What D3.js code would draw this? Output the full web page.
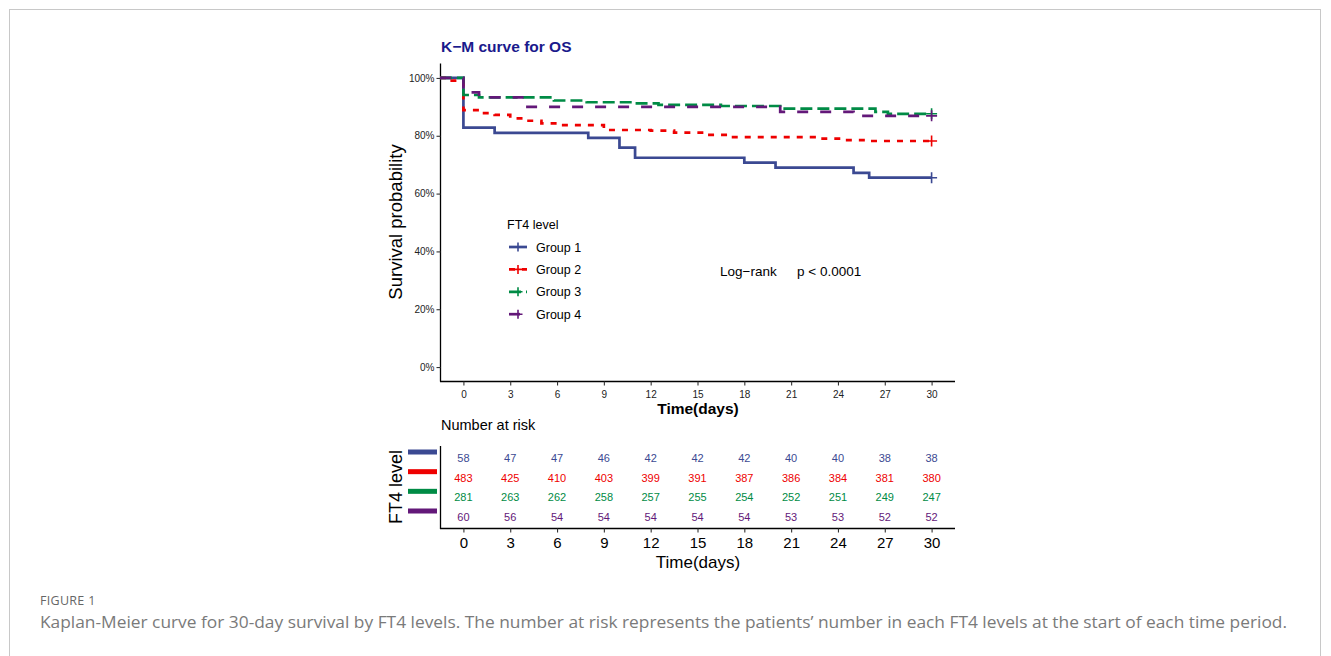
<!DOCTYPE html>
<html>
<head>
<meta charset="utf-8">
<script src="https://cdn.jsdelivr.net/npm/d3@7"></script>
<style>
  body { margin: 0; background: #fff; }
  svg text { font-family: "Liberation Sans", Arial, sans-serif; }
</style>
</head>
<body>
<svg id="fig" width="1331" height="656"></svg>
<script>
// groups and colours
const groups = ['Group 1', 'Group 2', 'Group 3', 'Group 4']
const colors = ['#3B4992', '#EE0000', '#008B45', '#631879']
const dashes = [null, '6,7', '12,5', '11,12']

// survival steps
const g1Time = [-1.5, 0, 2, 8, 10, 11, 18, 20, 25, 26, 30]
const g1Surv = [1.0, 0.828, 0.810, 0.793, 0.759, 0.724, 0.707, 0.690, 0.672, 0.655, 0.655]
const g2Time = [-1.5, -1.1, 0, 1, 2, 3, 4, 5, 6, 9, 12, 13.5, 15.5, 17, 22.5, 24.5, 26, 30]
const g2Surv = [1.0, 0.991, 0.889, 0.878, 0.872, 0.860, 0.852, 0.843, 0.837, 0.820, 0.818, 0.811, 0.803, 0.795, 0.790, 0.785, 0.782, 0.782]
const g3Time = [-1.5, 0, 1, 5.8, 7.9, 11, 12.5, 16.5, 20.3, 26.4, 27.2, 30]
const g3Surv = [1.0, 0.941, 0.933, 0.922, 0.916, 0.912, 0.907, 0.903, 0.894, 0.883, 0.876, 0.876]
const g4Time = [-1.5, 0, 1, 4, 20.3, 25, 30]
const g4Surv = [1.0, 0.950, 0.933, 0.900, 0.883, 0.869, 0.869]

// number at risk
const riskTimes = [0, 3, 6, 9, 12, 15, 18, 21, 24, 27, 30]
const risk1 = [58, 47, 47, 46, 42, 42, 42, 40, 40, 38, 38]
const risk2 = [483, 425, 410, 403, 399, 391, 387, 386, 384, 381, 380]
const risk3 = [281, 263, 262, 258, 257, 255, 254, 252, 251, 249, 247]
const risk4 = [60, 56, 54, 54, 54, 54, 54, 53, 53, 52, 52]

const yTicks = [0, 0.2, 0.4, 0.6, 0.8, 1.0]

const curves = [[g1Time, g1Surv], [g2Time, g2Surv], [g3Time, g3Surv], [g4Time, g4Surv]]
const risks = [risk1, risk2, risk3, risk4]

const svg = d3.select('#fig')

// outer frame
svg.append('rect').attr('x', 9.5).attr('y', 9.5).attr('width', 1311).attr('height', 700)
  .attr('fill', 'none').attr('stroke', '#c8c8c8').attr('stroke-width', 1)

const x = d3.scaleLinear().domain([-1.5, 31.5]).range([440, 955])
const y = d3.scaleLinear().domain([-0.05, 1.05]).range([381.5, 63.5])

// title
svg.append('text').attr('x', 441).attr('y', 52).text('K\u2212M curve for OS')
  .attr('font-size', 15.5).attr('font-weight', 'bold').attr('fill', '#1a1a8c')

// axes
const xAxis = d3.axisBottom(x).tickValues(riskTimes).tickSize(4).tickSizeOuter(0)
const yAxis = d3.axisLeft(y).tickValues(yTicks).tickSize(4).tickSizeOuter(0).tickFormat(d3.format('.0%'))

const gx = svg.append('g').attr('transform', 'translate(0,381.5)').call(xAxis)
gx.select('.domain').attr('d', 'M440,0H955').attr('stroke', '#000').attr('stroke-width', 1.3)
gx.selectAll('.tick line').attr('stroke', '#333').attr('stroke-width', 1.1)
gx.selectAll('.tick text').attr('font-size', 10).attr('fill', '#222').attr('dy', '0.9em')

const gy = svg.append('g').attr('transform', 'translate(440.5,0)').call(yAxis)
gy.select('.domain').attr('d', 'M0,63.5V381.5').attr('stroke', '#000').attr('stroke-width', 1.3)
gy.selectAll('.tick line').attr('stroke', '#333').attr('stroke-width', 1.1)
gy.selectAll('.tick text').attr('font-size', 10).attr('fill', '#222').attr('x', -6)

svg.append('text').attr('x', 698).attr('y', 414).attr('text-anchor', 'middle')
  .attr('font-size', 15.5).attr('font-weight', 'bold').text('Time(days)')
svg.append('text').attr('transform', 'translate(402,222) rotate(-90)').attr('text-anchor', 'middle')
  .attr('font-size', 18.5).text('Survival probability')

// curves
const line = d3.line().x(d => x(d[0])).y(d => y(d[1])).curve(d3.curveStepAfter)
const plus = (g, cx, cy, col, s) => {
  g.append('path').attr('d', `M${cx - s},${cy}H${cx + s}M${cx},${cy - s}V${cy + s}`)
    .attr('stroke', col).attr('stroke-width', 1.6).attr('fill', 'none')
}
const gc = svg.append('g')
curves.forEach((c, i) => {
  const pts = c[0].map((t, j) => [t, c[1][j]])
  gc.append('path').datum(pts).attr('d', line)
    .attr('fill', 'none').attr('stroke', colors[i]).attr('stroke-width', 2.7)
    .attr('stroke-dasharray', dashes[i])
  const last = pts[pts.length - 1]
  plus(gc, x(last[0]), y(last[1]), colors[i], 5.5)
})

// legend
svg.append('text').attr('x', 507).attr('y', 229).attr('font-size', 12.5).text('FT4 level')
groups.forEach((g, i) => {
  const ly = 247 + i * 22.4
  svg.append('line').attr('x1', 509).attr('x2', 527).attr('y1', ly).attr('y2', ly)
    .attr('stroke', colors[i]).attr('stroke-width', 2.7).attr('stroke-dasharray', dashes[i])
  plus(svg, 518, ly, colors[i], 4.5)
  svg.append('text').attr('x', 536).attr('y', ly + 4.5).attr('font-size', 12.5).text(g)
})

// log-rank
svg.append('text').attr('x', 720).attr('y', 276).attr('font-size', 13.5).text('Log\u2212rank')
svg.append('text').attr('x', 797).attr('y', 276).attr('font-size', 13.5).text('p < 0.0001')

// risk table
svg.append('text').attr('x', 441).attr('y', 430).attr('font-size', 14.5).text('Number at risk')
const yr = d3.scalePoint().domain(groups).range([458, 517])
const gr = svg.append('g')
risks.forEach((r, i) => {
  gr.selectAll(null).data(r).join('text')
    .attr('x', (d, j) => x(riskTimes[j])).attr('y', yr(groups[i]) + 4)
    .attr('text-anchor', 'middle').attr('font-size', 11).attr('fill', colors[i])
    .text(d => d)
  gr.append('rect').attr('x', 408).attr('y', yr(groups[i]) - 8.5).attr('width', 29).attr('height', 5)
    .attr('fill', colors[i])
})
const rx = d3.axisBottom(x).tickValues(riskTimes).tickSize(4).tickSizeOuter(0)
const grx = svg.append('g').attr('transform', 'translate(0,528.5)').call(rx)
grx.select('.domain').attr('d', 'M440,0H955').attr('stroke', '#000').attr('stroke-width', 1.3)
grx.selectAll('.tick line').attr('stroke', '#333').attr('stroke-width', 1.1)
grx.selectAll('.tick text').attr('font-size', 15).attr('fill', '#000').attr('dy', '0.8em')
svg.append('line').attr('x1', 440.5).attr('x2', 440.5).attr('y1', 446).attr('y2', 529)
  .attr('stroke', '#000').attr('stroke-width', 1.3)
svg.append('text').attr('x', 698).attr('y', 568).attr('text-anchor', 'middle')
  .attr('font-size', 17).text('Time(days)')
svg.append('text').attr('transform', 'translate(402,487) rotate(-90)').attr('text-anchor', 'middle')
  .attr('font-size', 18).text('FT4 level')

// caption
svg.append('text').attr('x', 40).attr('y', 605).attr('font-size', 12.5).attr('fill', '#666')
  .style('font-family', '"Open Sans", sans-serif').attr('letter-spacing', 0.3).text('FIGURE 1')
svg.append('text').attr('x', 40).attr('y', 628).attr('font-size', 16.5).attr('fill', '#7a7a7a')
  .style('font-family', '"Open Sans", sans-serif').attr('textLength', 1247).attr('lengthAdjust', 'spacingAndGlyphs')
  .text("Kaplan-Meier curve for 30-day survival by FT4 levels. The number at risk represents the patients\u2019 number in each FT4 levels at the start of each time period.")
</script>
</body>
</html>
